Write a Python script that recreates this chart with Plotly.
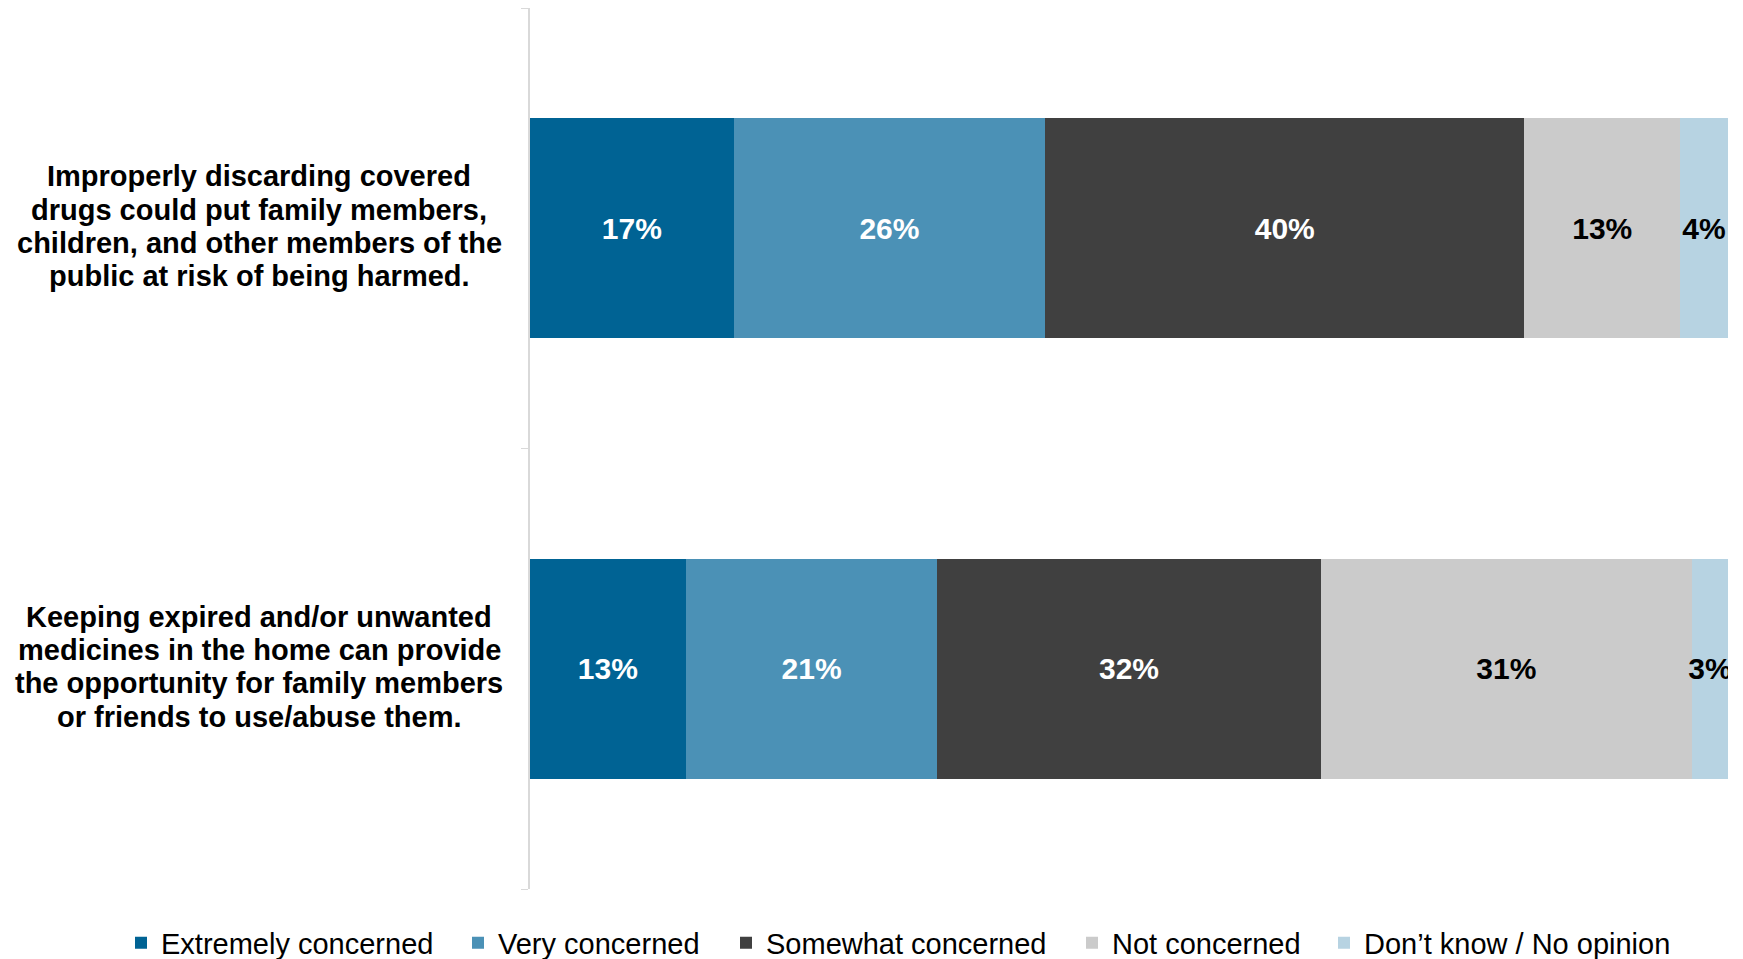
import plotly.graph_objects as go

categories = [
    "Improperly discarding covered<br>drugs could put family members,<br>children, and other members of the<br>public at risk of being harmed.",
    "Keeping expired and/or unwanted<br>medicines in the home can provide<br>the opportunity for family members<br>or friends to use/abuse them.",
]
series_names = ["Extremely concerned", "Very concerned", "Somewhat concerned",
                "Not concerned", "Don\u2019t know / No opinion"]
extremely = [17, 13]
very = [26, 21]
somewhat = [40, 32]
not_concerned = [13, 31]
dont_know = [4, 3]

series_values = [extremely, very, somewhat, not_concerned, dont_know]
colors = ["#006394", "#4B91B6", "#404040", "#CBCBCB", "#B7D3E2"]
text_colors = ["white", "white", "white", "black", "black"]

FONT = "Liberation Sans, Arial, sans-serif"
W, H = 1743, 959

# legend text start positions (px, page coords)
legend_text_x = [161, 498, 766, 1112, 1364]
legend_y_px = 943

fig = go.Figure()
legend_layout = {}
for i, (name, vals, col, tcol) in enumerate(zip(series_names, series_values, colors, text_colors)):
    lname = "legend" if i == 0 else f"legend{i+1}"
    fig.add_trace(go.Bar(
        y=list(range(len(categories))), x=vals, name=name, orientation="h",
        marker=dict(color=col, line=dict(width=0)),
        text=[f"{v}%" for v in vals], textposition="inside",
        insidetextanchor="middle", textangle=0, constraintext="none",
        textfont=dict(family=FONT, size=30, color=tcol, weight="bold"),
        hoverinfo="skip", legend=lname, showlegend=True,
    ))
    legend_layout[lname] = dict(
        xref="container", yref="container",
        x=(legend_text_x[i] - 40) / W, xanchor="left",
        y=1 - legend_y_px / H, yanchor="middle",
        orientation="h", bgcolor="rgba(0,0,0,0)",
        font=dict(family=FONT, size=29, color="black"), itemclick=False,
    )

line_gap = 33.4
for i, cat in enumerate(categories):
    lines = cat.split("<br>")
    n = len(lines)
    for k, ln in enumerate(lines):
        fig.add_annotation(
            x=-0.2262, xref="paper", y=i, yref="y", text=ln, showarrow=False,
            xanchor="center", yanchor="middle", align="center",
            yshift=-(k - (n - 1) / 2) * line_gap + 2,
            font=dict(family=FONT, size=29, color="black", weight="bold"),
        )

fig.update_layout(
    barmode="stack", bargap=0.5,
    width=W, height=H,
    margin=dict(l=530, r=W - 1728, t=8, b=H - 889, autoexpand=False),
    plot_bgcolor="white", paper_bgcolor="white",
    showlegend=True,
    xaxis=dict(range=[0, 100], visible=False, fixedrange=True),
    yaxis=dict(type="linear", range=[1.5, -0.5], showticklabels=False,
               showline=True, linecolor="#D9D9D9", linewidth=1.5,
               tickvals=[-0.5, 0.5, 1.5], ticks="outside", ticklen=7,
               tickcolor="#D9D9D9", showgrid=False, zeroline=False),
    **legend_layout,
)

fig.write_html("out.html", config={"displayModeBar": False},
               post_script="document.body.style.margin='0';document.body.style.overflow='hidden';")
